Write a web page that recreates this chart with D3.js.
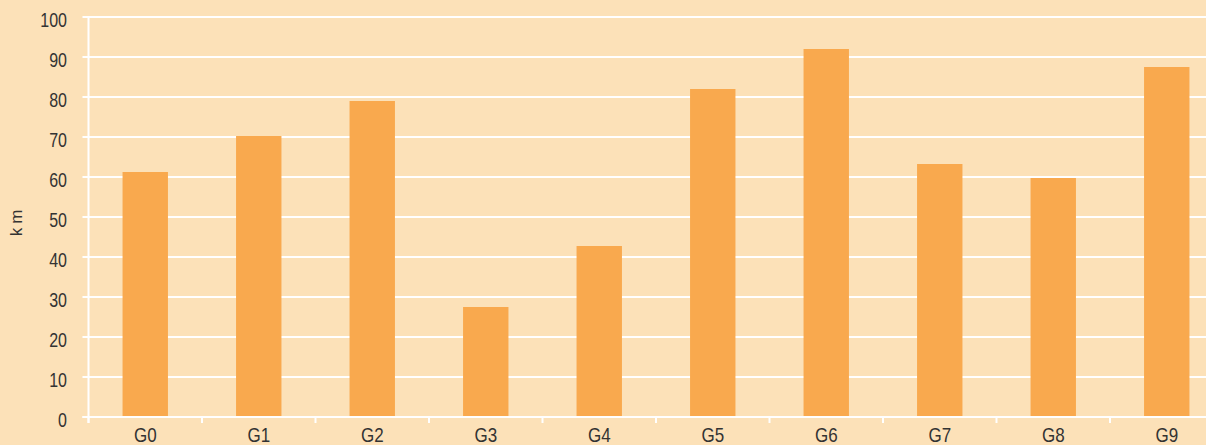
<!DOCTYPE html>
<html>
<head>
<meta charset="utf-8">
<script src="https://cdn.jsdelivr.net/npm/d3@7"></script>
<style>
html,body{margin:0;padding:0;background:#fce1b8;overflow:hidden}
</style>
</head>
<body>
<div id="graph"></div>
<script>
"use strict"
var categories=["G0","G1","G2","G3","G4","G5","G6","G7","G8","G9"]
var values=[61.25,70.25,79,27.5,42.75,82,92,63.25,59.75,87.5]
var yTicks=[0,10,20,30,40,50,60,70,80,90,100]
var yLabel="km"

var W=1206,H=445
var plotL=88.5,plotR=1223.5,plotT=17,plotB=417
var txt="#333333",grid="#ffffff",barColor="#f9a94e"

var svg=d3.select('#graph').append('svg:svg').attr('width',W).attr('height',H)
svg.append('svg:rect').attr('width',W).attr('height',H).attr('fill','#fce1b8')

var x=d3.scaleBand().domain(categories).range([plotL,plotR]).padding(0)
var y=d3.scaleLinear().domain([0,100]).range([plotB,plotT])

// grid lines with left tick stubs
svg.append('svg:g').selectAll('line').data(yTicks).enter().append('svg:line')
  .attr('x1',82.5).attr('x2',W).attr('y1',function(d){return y(d)}).attr('y2',function(d){return y(d)})
  .attr('stroke',grid).attr('stroke-width',2)

// bars
var bw=x.bandwidth()*0.4
svg.append('svg:g').selectAll('rect').data(values).enter().append('svg:rect')
  .attr('x',function(d,i){return x(categories[i])+(x.bandwidth()-bw)/2})
  .attr('y',function(d){return y(d)})
  .attr('width',bw)
  .attr('height',function(d){return y(0)-y(d)})
  .attr('fill',barColor)

// y axis line
svg.append('svg:line').attr('x1',plotL).attr('x2',plotL).attr('y1',plotT).attr('y2',plotB+6)
  .attr('stroke',grid).attr('stroke-width',2)

// x axis line and ticks at band edges
svg.append('svg:line').attr('x1',82.5).attr('x2',W).attr('y1',plotB).attr('y2',plotB)
  .attr('stroke',grid).attr('stroke-width',2)
var edges=categories.map(function(c){return x(c)}).concat([plotR])
svg.append('svg:g').selectAll('line').data(edges).enter().append('svg:line')
  .attr('x1',function(d){return d}).attr('x2',function(d){return d})
  .attr('y1',plotB).attr('y2',plotB+6)
  .attr('stroke',grid).attr('stroke-width',2)

// y tick labels (narrow look)
svg.append('svg:g').selectAll('text').data(yTicks).enter().append('svg:text')
  .attr('transform',function(d){return 'translate(67 '+(y(d)+9.5)+') scale(0.8 1)'})
  .attr('text-anchor','end')
  .attr('font-family','Liberation Sans, Arial, sans-serif').attr('font-size',20)
  .attr('fill',txt).text(function(d){return d})

// x labels
svg.append('svg:g').selectAll('text').data(categories).enter().append('svg:text')
  .attr('transform',function(d){return 'translate('+(x(d)+x.bandwidth()/2)+' 441.5) scale(0.85 1)'})
  .attr('text-anchor','middle')
  .attr('font-family','Liberation Sans, Arial, sans-serif').attr('font-size',20)
  .attr('fill',txt).text(function(d){return d})

// axis title
svg.append('svg:text')
  .attr('transform','translate(22 221) rotate(-90)')
  .attr('text-anchor','middle')
  .attr('font-family','Liberation Sans, Arial, sans-serif').attr('font-size',17)
  .attr('letter-spacing',4)
  .attr('fill',txt).text(yLabel)
</script>
</body>
</html>
